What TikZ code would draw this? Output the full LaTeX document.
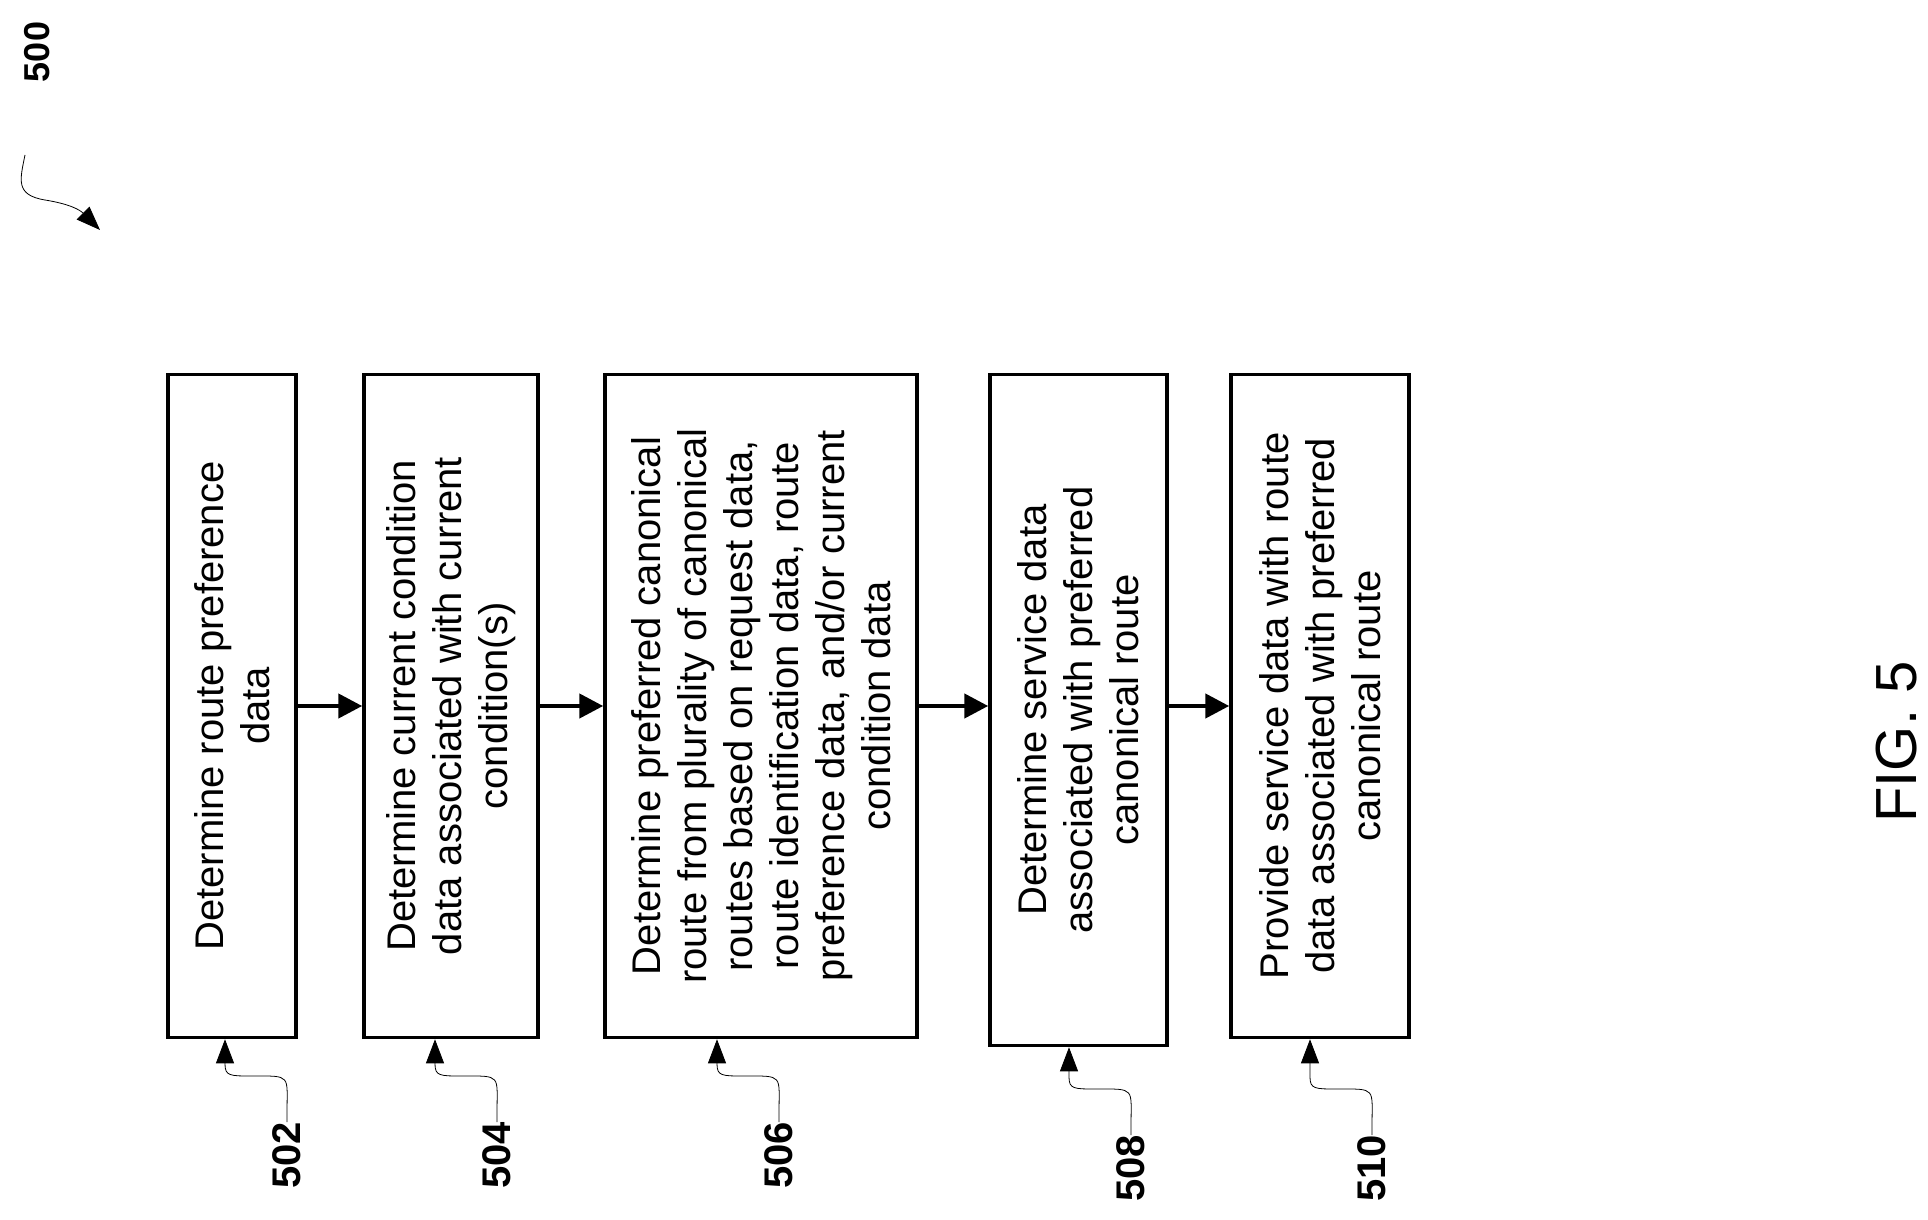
\documentclass[tikz,border=0pt]{standalone}
\usepackage{fontspec}
\setmainfont{Liberation Sans}
\usetikzlibrary{arrows.meta,calc}
\begin{document}
\begin{tikzpicture}[x=1pt,y=-1pt,
  stepbox/.style={draw,line width=3.5pt,rotate=90,align=center,font=\fontsize{40}{46}\selectfont,inner sep=0pt},
  flow/.style={line width=4.5pt,-{Triangle[length=24pt,width=24pt]}},
  lead/.style={line width=0.8pt,-{Triangle[length=24pt,width=18pt]}},
  reflabel/.style={rotate=90,anchor=east,font=\fontsize{40}{44}\selectfont\bfseries,inner sep=0pt}]
\useasboundingbox (0,0) rectangle (1928,1220);
\node[stepbox,minimum width=663pt,minimum height=128pt] (b502) at (232,706) {Determine route preference\\data};
\node[stepbox,minimum width=663pt,minimum height=174pt] (b504) at (451,706) {Determine current condition\\data associated with current\\condition(s)};
\node[stepbox,minimum width=663pt,minimum height=312pt] (b506) at (761,706) {Determine preferred canonical\\route from plurality of canonical\\routes based on request data,\\route identification data, route\\preference data, and/or current\\condition data};
\node[stepbox,minimum width=671pt,minimum height=177pt] (b508) at (1078.5,710) {Determine service data\\associated with preferred\\canonical route};
\node[stepbox,minimum width=663pt,minimum height=178pt] (b510) at (1320,706) {Provide service data with route\\data associated with preferred\\canonical route};
\draw[flow] (b502.south) -- (b504.north);
\draw[flow] (b504.south) -- (b506.north);
\draw[flow] (b506.south) -- (b508.north |- b506.south);
\draw[flow] (b508.south |- b506.south) -- (b510.north);
\node[reflabel] (l502) at (287,1122) {502};
\node[reflabel] (l504) at (497,1122) {504};
\node[reflabel] (l506) at (779,1122) {506};
\node[reflabel] (l508) at (1131,1135) {508};
\node[reflabel] (l510) at (1372,1135) {510};
\foreach \n in {502,504,506,508,510}{
  \coordinate (k\n) at ($(l\n.east)+(-62,0)$);
  \draw[lead] (l\n.east) -- ++(0,-8) .. controls +(0,-40) and +(40,0) .. ++(-35,-38) .. controls +(-22,0) and +(0,12) .. ++(-27,-12) -- (b\n.west -| k\n);
}
\node[rotate=90,font=\fontsize{36}{40}\selectfont\bfseries,inner sep=0pt] (l500) at (37,52) {500};
\coordinate (t500) at (100,230);
\draw[lead] (25,155) .. controls (20,180) and (15,195) .. (45,200) .. controls (70,204) and (80,210) .. (t500);
\node[rotate=90,font=\fontsize{58}{62}\selectfont,inner sep=0pt] (fig) at (1897,742) {FIG. 5};
\end{tikzpicture}
\end{document}
